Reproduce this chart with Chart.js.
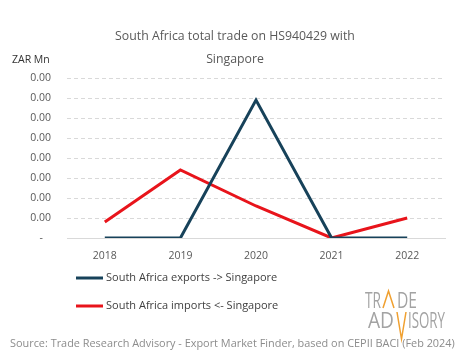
<!DOCTYPE html>
<html>
<head>
<meta charset="utf-8">
<script src="https://cdn.jsdelivr.net/npm/chart.js@4.4.1/dist/chart.umd.min.js"></script>
<style>
  html, body { margin: 0; padding: 0; background: #fff; }
  #wrap { width: 465px; height: 359px; position: relative; }
</style>
</head>
<body>
<div id="wrap"><canvas id="chart" width="465" height="359"></canvas></div>
<script>
const years = ["2018", "2019", "2020", "2021", "2022"];
const exportsZarMn = [0, 0, 0.00345, 0, 0];
const importsZarMn = [0.0004, 0.0017, 0.0008, 0, 0.0005];
const titleLines = ["South Africa total trade on HS940429 with", "Singapore"];
const unitLabel = "ZAR Mn";
const sourceText = "Source: Trade Research Advisory - Export Market Finder, based on CEPII BACI (Feb 2024)";

const FONT = "'Open Sans', sans-serif";
const NAVY = "#17425a";
const RED = "#e8141b";

// draw a piece of text squeezed into a given width (logo)
function fitText(ctx, txt, x, y, w) {
  const m = ctx.measureText(txt).width;
  ctx.save();
  ctx.translate(x, y);
  ctx.scale(w / m, 1);
  ctx.fillText(txt, 0, 0);
  ctx.restore();
}

const decorPlugin = {
  id: "decor",
  afterDraw(chart) {
    const ctx = chart.ctx;
    ctx.save();

    // title
    ctx.fillStyle = "#595959";
    ctx.font = "12.3px " + FONT;
    ctx.textAlign = "center";
    ctx.textBaseline = "middle";
    ctx.fillText(titleLines[0], 235, 36);
    ctx.fillText(titleLines[1], 235, 59);

    // unit
    ctx.fillStyle = "#333";
    ctx.font = "10.5px " + FONT;
    ctx.textAlign = "left";
    ctx.fillText(unitLabel, 12, 60);

    // legend
    ctx.font = "11px " + FONT;
    ctx.fillStyle = "#404040";
    chart.data.datasets.forEach((ds, i) => {
      const y = 278 + i * 28;
      ctx.strokeStyle = ds.borderColor;
      ctx.lineWidth = 3;
      ctx.beginPath();
      ctx.moveTo(76, y);
      ctx.lineTo(103, y);
      ctx.stroke();
      ctx.fillText(ds.label, 106, y);
    });

    // source
    ctx.fillStyle = "#8c8c8c";
    ctx.font = "10.9px " + FONT;
    ctx.fillText(sourceText, 10, 344);

    // logo
    ctx.fillStyle = "#a3a3a3";
    ctx.font = "22px " + FONT;
    ctx.textBaseline = "alphabetic";
    fitText(ctx, "TR", 365, 308, 16);
    fitText(ctx, "DE", 397, 308, 20);
    fitText(ctx, "AD", 368, 328, 26);
    fitText(ctx, "ISORY", 408, 328, 37);
    ctx.strokeStyle = "#f0a030";
    ctx.lineWidth = 1.5;
    ctx.beginPath();
    ctx.moveTo(383, 308);
    ctx.lineTo(388.5, 291);
    ctx.lineTo(394, 308);
    ctx.stroke();
    ctx.beginPath();
    ctx.moveTo(397, 312);
    ctx.lineTo(401.5, 339);
    ctx.lineTo(406, 312);
    ctx.stroke();

    ctx.restore();
  }
};

new Chart(document.getElementById("chart"), {
  type: "line",
  data: {
    labels: years,
    datasets: [
      {
        label: "South Africa exports -> Singapore",
        data: exportsZarMn,
        borderColor: NAVY,
        backgroundColor: NAVY,
        borderWidth: 3,
        pointRadius: 0,
        tension: 0
      },
      {
        label: "South Africa imports <- Singapore",
        data: importsZarMn,
        borderColor: RED,
        backgroundColor: RED,
        borderWidth: 3,
        pointRadius: 0,
        tension: 0
      }
    ]
  },
  options: {
    responsive: false,
    animation: false,
    layout: { padding: { top: 78, right: 20, left: 0, bottom: 0 } },
    plugins: {
      legend: { display: false },
      title: { display: false },
      tooltip: { enabled: false }
    },
    scales: {
      x: {
        offset: true,
        grid: { display: false, drawTicks: false },
        border: { display: true, color: "#d9d9d9", width: 1 },
        ticks: { color: "#595959", font: { family: FONT, size: 10.5 }, padding: 12 },
        afterFit: (s) => { s.height = 121; }
      },
      y: {
        min: 0,
        max: 0.004,
        grid: { color: "#d9d9d9", drawTicks: false },
        border: { display: false, dash: [4, 3] },
        ticks: {
          stepSize: 0.0005,
          color: "#595959",
          font: { family: FONT, size: 10.5 },
          padding: 16,
          callback: (v) => (v === 0 ? "-   " : v.toFixed(2))
        },
        afterFit: (s) => { s.width = 67; }
      }
    }
  },
  plugins: [decorPlugin]
});
</script>
</body>
</html>
